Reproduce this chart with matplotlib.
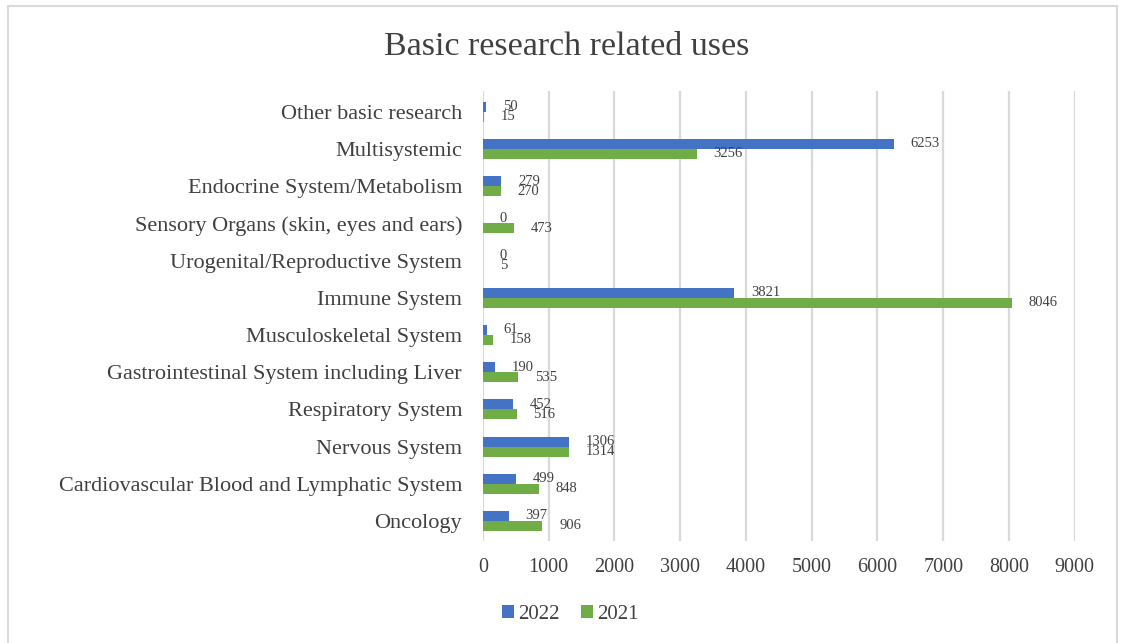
import matplotlib.pyplot as plt
import numpy as np
from matplotlib.patches import Rectangle

# data (bottom to top as drawn)
categories = ["Oncology", "Cardiovascular Blood and Lymphatic System", "Nervous System",
              "Respiratory System", "Gastrointestinal System including Liver",
              "Musculoskeletal System", "Immune System", "Urogenital/Reproductive System",
              "Sensory Organs (skin, eyes and ears)", "Endocrine System/Metabolism",
              "Multisystemic", "Other basic research"]
vals_2022 = [397, 499, 1306, 452, 190, 61, 3821, 0, 0, 279, 6253, 50]
vals_2021 = [906, 848, 1314, 516, 535, 158, 8046, 5, 473, 270, 3256, 15]

plt.rcParams['font.family'] = ['Liberation Serif', 'DejaVu Serif']

fig = plt.figure(figsize=(11.23, 6.43), dpi=100)
ax = fig.add_axes([0.430, 0.158, 0.527, 0.70])

y = np.arange(len(categories))
h = 0.27
blue = "#4472C4"
green = "#70AD47"
ax.barh(y + h / 2, vals_2022, height=h, color=blue, label="2022")
ax.barh(y - h / 2, vals_2021, height=h, color=green, label="2021")

for i in range(len(categories)):
    ax.annotate(str(vals_2022[i]), (vals_2022[i], y[i] + h / 2), xytext=(12, 0),
                textcoords="offset points", va="center", ha="left", fontsize=10.5, color="#404040")
    ax.annotate(str(vals_2021[i]), (vals_2021[i], y[i] - h / 2), xytext=(12, 0),
                textcoords="offset points", va="center", ha="left", fontsize=10.5, color="#404040")

ax.set_xlim(0, 9000)
ax.set_ylim(-0.55, len(categories) - 0.45)
ax.set_xticks(np.arange(0, 9001, 1000))
ax.set_yticks(y)
ax.set_yticklabels(categories)
ax.tick_params(axis="both", length=0, colors="#404040")
ax.tick_params(axis="x", pad=12, labelsize=14.5)
ax.tick_params(axis="y", pad=15, labelsize=16)
ax.grid(axis="x", color="#d9d9d9", linewidth=1.6)
ax.set_axisbelow(True)
for s in ax.spines.values():
    s.set_visible(False)

fig.text(0.505, 0.928, "Basic research related uses", ha="center", va="center",
         fontsize=24.5, color="#404040")

ax.legend(loc="upper left", bbox_to_anchor=(0.0, -0.1), ncol=2, frameon=False,
          fontsize=15, handlelength=0.6, handleheight=0.6, handletextpad=0.2,
          columnspacing=1.0, labelcolor="#404040")

fig.patches.append(Rectangle((0.007, -0.01), 0.988, 1.0, transform=fig.transFigure,
                             fill=False, edgecolor="#d9d9d9", linewidth=1.5))

fig.savefig("out.png", dpi=100)
